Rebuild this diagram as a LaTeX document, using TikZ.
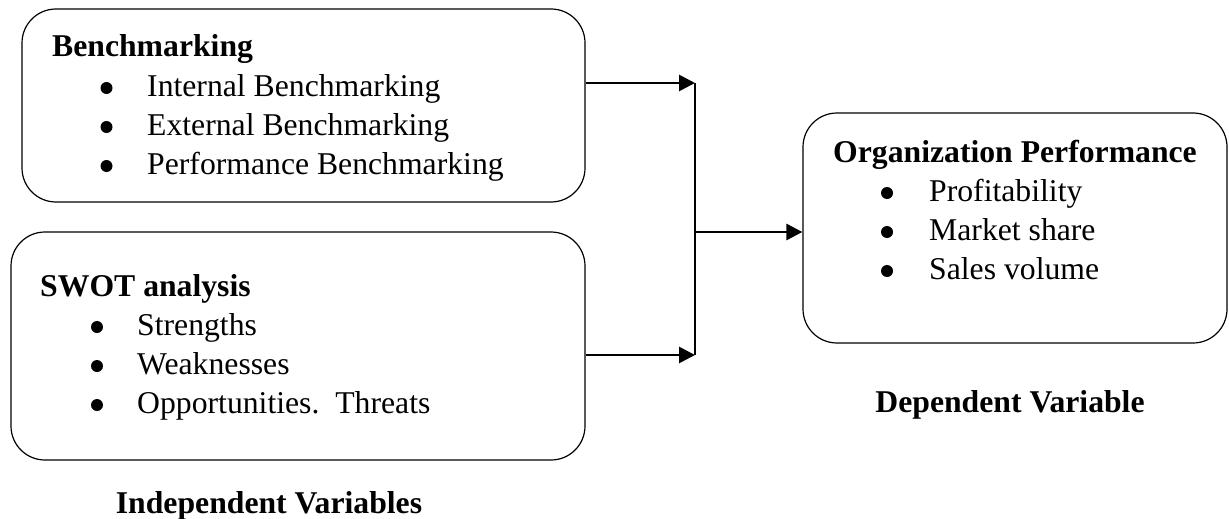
\documentclass[tikz,border=0pt]{standalone}
\usepackage{fontspec}
\setmainfont{Liberation Serif}
\usetikzlibrary{arrows.meta}
\begin{document}
\begin{tikzpicture}[x=1pt,y=-1pt,
  box/.style={draw, rounded corners=34pt, line width=1.2pt, inner sep=0pt},
  txt/.style={anchor=base west, inner sep=0pt, font=\fontsize{31.7}{38}\selectfont},
  ttl/.style={anchor=base west, inner sep=0pt, font=\fontsize{31.7}{38}\selectfont\bfseries},
  captxt/.style={anchor=base, inner sep=0pt, font=\fontsize{31.7}{38}\selectfont\bfseries},
  bul/.style={circle, fill, inner sep=0pt, minimum size=12pt},
  arr/.style={line width=2.8pt, -{Triangle[length=16pt,width=16pt]}},
]
\useasboundingbox (0,0) rectangle (1229,519);
% boxes
\node[box, minimum width=563pt, minimum height=193pt] (b1) at (303.5,105.5) {};
\node[box, minimum width=574pt, minimum height=228pt] (b2) at (298,346) {};
\node[box, minimum width=424pt, minimum height=230pt] (b3) at (1015,228) {};
% box 1 text
\node[ttl] (t1) at (52,57) {Benchmarking};
\node[bul] (p11) at (106.5,88) {};
\node[txt] (i11) at (147,96) {Internal Benchmarking};
\node[bul] (p12) at (106.5,127) {};
\node[txt] (i12) at (147,135) {External Benchmarking};
\node[bul] (p13) at (106.5,166) {};
\node[txt] (i13) at (147,174) {Performance Benchmarking};
% box 2 text
\node[ttl] (t2) at (40,296) {SWOT analysis};
\node[bul] (p21) at (97,327) {};
\node[txt] (i21) at (137,335) {Strengths};
\node[bul] (p22) at (97,366) {};
\node[txt] (i22) at (137,374) {Weaknesses};
\node[bul] (p23) at (97,405) {};
\node[txt] (i23) at (137,413) {Opportunities.\ \ Threats};
% box 3 text
\node[ttl] (t3) at (833,162) {Organization Performance};
\node[bul] (p31) at (887,193) {};
\node[txt] (i31) at (929,201) {Profitability};
\node[bul] (p32) at (887,232) {};
\node[txt] (i32) at (929,240) {Market share};
\node[bul] (p33) at (887,271) {};
\node[txt] (i33) at (929,279) {Sales volume};
% captions
\node[captxt] (c1) at (269,513) {Independent Variables};
\node[captxt] (c2) at (1010,412) {Dependent Variable};
% connectors
\coordinate (j1) at (695,83);
\coordinate (j2) at (695,355);
\coordinate (jm) at (695,232);
\draw[arr] (b1.east |- j1) -- (j1);
\draw[arr] (b2.east |- j2) -- (j2);
\draw[line width=1.8pt] (j1) -- (j2);
\draw[arr] (jm) -- (jm -| b3.west);
\end{tikzpicture}
\end{document}
